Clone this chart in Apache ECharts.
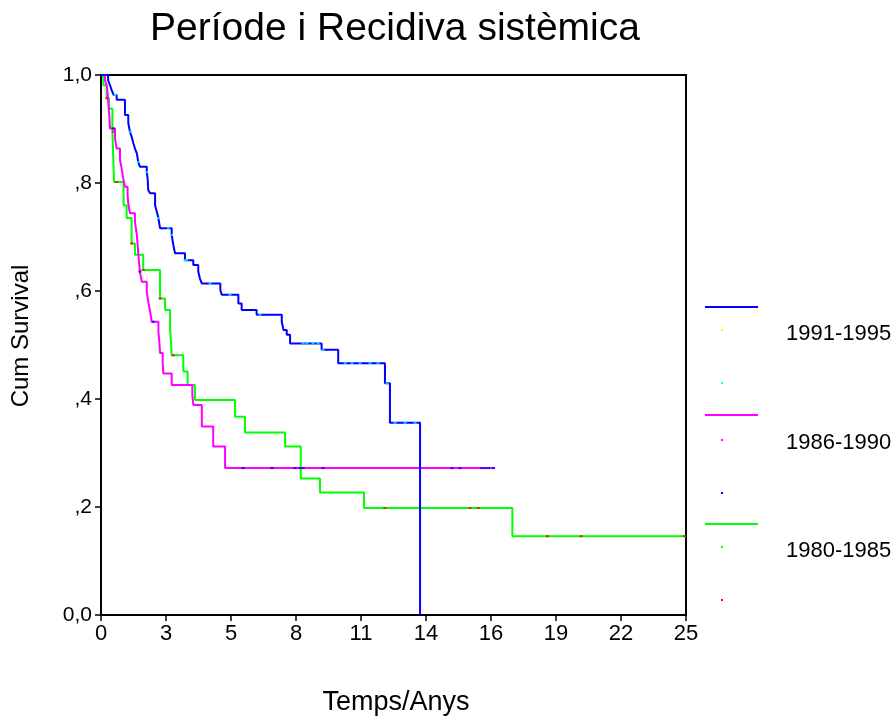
<!DOCTYPE html>
<html>
<head>
<meta charset="utf-8">
<script src="https://cdn.jsdelivr.net/npm/echarts@6/dist/echarts.min.js"></script>
<style>html,body{margin:0;padding:0;background:#fff}#c{width:893px;height:720px}</style>
</head>
<body>
<div id="c"></div>
<script>
// ---- data (time in years, cumulative survival) ----
var groups = ['1991-1995', '1986-1990', '1980-1985'];
var xTickLabels = ['0', '3', '5', '8', '11', '14', '16', '19', '22', '25'];
var yTickLabels = ['0,0', ',2', ',4', ',6', ',8', '1,0'];

var blueTimes = [0, 0.30, 0.38, 0.45, 0.53, 0.66, 1.01, 1.15, 1.22, 1.29, 1.36, 1.43, 1.51, 1.57, 1.64, 1.93, 1.97, 1.99, 2.07, 2.28, 2.35, 2.42, 2.49, 2.98, 3.05, 3.12, 3.54, 3.89, 4.10, 4.17, 4.25, 5.03, 5.09, 5.79, 5.93, 6.56, 7.62, 7.69, 7.83, 7.97, 9.30, 10.00, 11.97, 12.18, 13.45];
var blueSurv  = [1, 0.990, 0.981, 0.972, 0.963, 0.954, 0.926, 0.911, 0.895, 0.886, 0.874, 0.864, 0.855, 0.839, 0.830, 0.820, 0.806, 0.787, 0.781, 0.759, 0.747, 0.735, 0.716, 0.704, 0.685, 0.670, 0.657, 0.648, 0.636, 0.623, 0.614, 0.602, 0.593, 0.577, 0.565, 0.556, 0.543, 0.528, 0.519, 0.503, 0.491, 0.466, 0.429, 0.356, 0];
var blueCensor = [0.59, 1.25, 1.57, 1.93, 2.42, 2.84, 2.98, 3.54, 3.61, 4.60, 5.44, 6.70, 8.52, 8.68, 8.94, 9.15, 9.36, 10.29, 10.58, 10.92, 11.34, 11.68, 12.06, 12.39, 12.82, 13.24];

var magTimes = [0, 0.17, 0.24, 0.28, 0.31, 0.35, 0.38, 0.59, 0.66, 0.80, 0.87, 0.94, 1.01, 1.12, 1.15, 1.22, 1.43, 1.51, 1.57, 1.64, 1.72, 1.93, 1.99, 2.07, 2.14, 2.42, 2.46, 2.49, 2.60, 2.63, 2.98, 3.85, 3.89, 4.25, 4.73, 5.23, 16.61];
var magSurv  = [1, 0.990, 0.981, 0.966, 0.948, 0.925, 0.901, 0.883, 0.864, 0.843, 0.827, 0.808, 0.793, 0.778, 0.762, 0.744, 0.728, 0.704, 0.670, 0.636, 0.617, 0.599, 0.580, 0.562, 0.543, 0.525, 0.505, 0.485, 0.466, 0.447, 0.426, 0.407, 0.389, 0.349, 0.312, 0.272, 0.272];
var magCensor = [0.52, 1.64, 2.20, 5.99, 7.21, 8.18, 8.39, 8.52, 9.36, 14.79, 15.14, 16.05, 16.19, 16.33, 16.54];

var greenTimes = [0, 0.10, 0.24, 0.34, 0.48, 0.55, 0.95, 1.08, 1.29, 1.43, 1.78, 2.49, 2.70, 2.91, 2.98, 3.47, 3.65, 3.96, 5.65, 6.07, 7.76, 8.42, 9.23, 11.09, 17.34, 24.66];
var greenSurv  = [1, 0.981, 0.957, 0.938, 0.895, 0.802, 0.759, 0.735, 0.688, 0.667, 0.639, 0.586, 0.565, 0.534, 0.481, 0.451, 0.426, 0.398, 0.367, 0.338, 0.312, 0.253, 0.227, 0.198, 0.146, 0.146];
var greenCensor = [0.24, 0.52, 0.66, 1.29, 1.78, 2.49, 3.05, 11.97, 15.56, 15.91, 18.82, 20.24, 24.59];

var xMax = 24.66, xStep = 2.74;

function pairs(t, s) { return t.map(function (v, i) { return [v, s[i]]; }); }
function stepAt(t, s, x) {
  var v = s[0];
  for (var i = 0; i < t.length; i++) { if (t[i] <= x) v = s[i]; }
  return v;
}
function censorPts(ct, t, s) { return ct.map(function (x) { return [x, stepAt(t, s, x)]; }); }

var chart = echarts.init(document.getElementById('c'), null, { renderer: 'canvas' });
var FONT = 'Liberation Sans, Arial, sans-serif';

function lineSeries(name, data, color) {
  return { name: name, type: 'line', step: 'end', data: data, symbol: 'none', animation: false,
    lineStyle: { color: color, width: 2 }, itemStyle: { color: color }, z: 3 };
}
function censorSeries(data, color) {
  return { type: 'scatter', data: data, symbol: 'rect', symbolSize: [3, 2], animation: false,
    itemStyle: { color: color }, z: 4, silent: true };
}

var option = {
  backgroundColor: '#fff',
  animation: false,
  grid: { left: 101, top: 75, width: 585, height: 540, show: true, borderColor: '#000', borderWidth: 2, backgroundColor: 'transparent' },
  xAxis: {
    type: 'value', min: 0, max: xMax, interval: xStep,
    axisLine: { show: true, lineStyle: { color: '#000', width: 2 } },
    axisTick: { show: true, inside: false, length: 6, lineStyle: { color: '#000', width: 1.5 } },
    splitLine: { show: false },
    axisLabel: { show: true, showMaxLabel: true, showMinLabel: true, margin: 8, color: '#000', fontSize: 22, fontFamily: FONT,
      formatter: function (v) { return xTickLabels[Math.round(v / xStep)]; } }
  },
  yAxis: {
    type: 'value', min: 0, max: 1, interval: 0.2,
    axisLine: { show: true, lineStyle: { color: '#000', width: 2 } },
    axisTick: { show: true, inside: false, length: 6, lineStyle: { color: '#000', width: 1.5 } },
    splitLine: { show: false },
    axisLabel: { show: true, margin: 9, color: '#000', fontSize: 21, fontFamily: FONT,
      formatter: function (v) { return yTickLabels[Math.round(v / 0.2)]; } }
  },
  series: [
    lineSeries(groups[2], pairs(greenTimes, greenSurv), '#00ff00'),
    lineSeries(groups[1], pairs(magTimes, magSurv), '#ff00ff'),
    lineSeries(groups[0], pairs(blueTimes, blueSurv), '#0000ff'),
    censorSeries(censorPts(greenCensor, greenTimes, greenSurv), '#ff0000'),
    censorSeries(censorPts(magCensor, magTimes, magSurv), '#0000ff'),
    censorSeries(censorPts(blueCensor, blueTimes, blueSurv), '#00ffff')
  ],
  graphic: [
    { type: 'text', x: 395, y: 29, style: { text: 'Període i Recidiva sistèmica', font: '39px ' + FONT, fill: '#000', align: 'center', verticalAlign: 'middle' } },
    { type: 'text', x: 21, y: 336, rotation: Math.PI / 2, style: { text: 'Cum Survival', font: '24px ' + FONT, fill: '#000', align: 'center', verticalAlign: 'middle' } },
    { type: 'text', x: 396, y: 703, style: { text: 'Temps/Anys', font: '27px ' + FONT, fill: '#000', align: 'center', verticalAlign: 'middle' } },
    // legend
    { type: 'line', shape: { x1: 705, y1: 307, x2: 758, y2: 307 }, style: { stroke: '#0000ff', lineWidth: 2 } },
    { type: 'rect', shape: { x: 721, y: 329, width: 2, height: 2 }, style: { fill: '#ffff00' } },
    { type: 'text', x: 786, y: 334, style: { text: groups[0], font: '22px ' + FONT, fill: '#000', verticalAlign: 'middle' } },
    { type: 'rect', shape: { x: 721, y: 382, width: 2, height: 2 }, style: { fill: '#00ffff' } },
    { type: 'line', shape: { x1: 705, y1: 415, x2: 758, y2: 415 }, style: { stroke: '#ff00ff', lineWidth: 2 } },
    { type: 'rect', shape: { x: 721, y: 439, width: 2, height: 2 }, style: { fill: '#ff00ff' } },
    { type: 'text', x: 786, y: 443, style: { text: groups[1], font: '22px ' + FONT, fill: '#000', verticalAlign: 'middle' } },
    { type: 'rect', shape: { x: 721, y: 492, width: 2, height: 2 }, style: { fill: '#0000ff' } },
    { type: 'line', shape: { x1: 705, y1: 524, x2: 758, y2: 524 }, style: { stroke: '#00ff00', lineWidth: 2 } },
    { type: 'rect', shape: { x: 721, y: 546, width: 2, height: 2 }, style: { fill: '#00ff00' } },
    { type: 'text', x: 786, y: 551, style: { text: groups[2], font: '22px ' + FONT, fill: '#000', verticalAlign: 'middle' } },
    { type: 'rect', shape: { x: 721, y: 599, width: 2, height: 2 }, style: { fill: '#ff0000' } }
  ]
};
chart.setOption(option);
</script>
</body>
</html>
